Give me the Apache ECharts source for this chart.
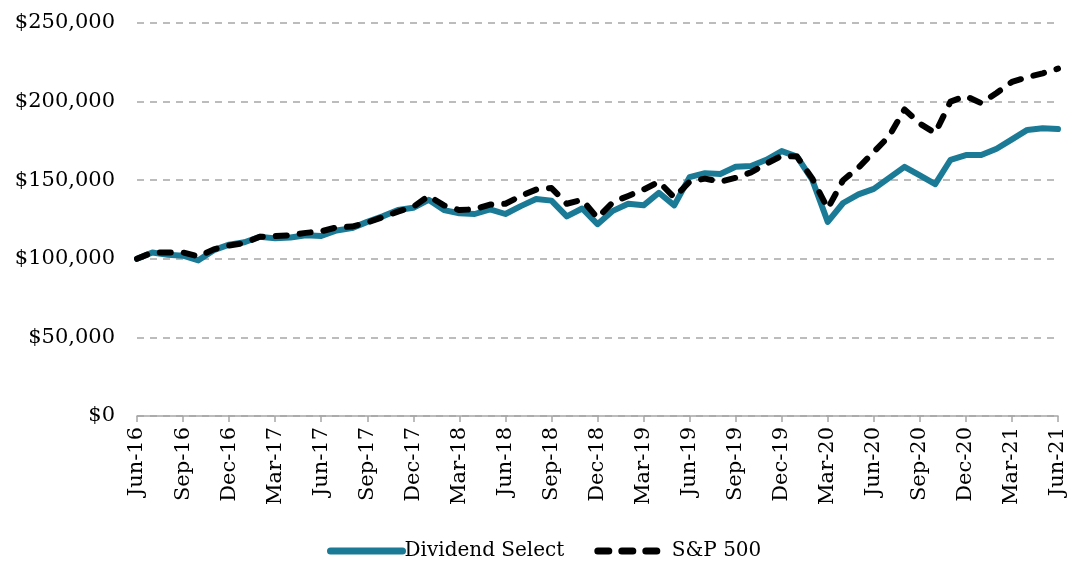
<!DOCTYPE html>
<html lang="en">
<head>
    <meta charset="UTF-8">
    <title>Dividend Select vs S&amp;P 500</title>
    <script src="https://cdn.jsdelivr.net/npm/echarts@6/dist/echarts.min.js"></script>
    <style>
        body { margin: 0; background: #fff; }
    </style>
</head>
<body>
<div id="chart" style="width:1069px;height:561px;"></div>
<script>
    // monthly, Jun-16 .. Jun-21
    var months = ['Jun-16','Jul-16','Aug-16','Sep-16','Oct-16','Nov-16','Dec-16',
        'Jan-17','Feb-17','Mar-17','Apr-17','May-17','Jun-17','Jul-17','Aug-17','Sep-17','Oct-17','Nov-17','Dec-17',
        'Jan-18','Feb-18','Mar-18','Apr-18','May-18','Jun-18','Jul-18','Aug-18','Sep-18','Oct-18','Nov-18','Dec-18',
        'Jan-19','Feb-19','Mar-19','Apr-19','May-19','Jun-19','Jul-19','Aug-19','Sep-19','Oct-19','Nov-19','Dec-19',
        'Jan-20','Feb-20','Mar-20','Apr-20','May-20','Jun-20','Jul-20','Aug-20','Sep-20','Oct-20','Nov-20','Dec-20',
        'Jan-21','Feb-21','Mar-21','Apr-21','May-21','Jun-21'];

    var dividendSelect = [100000,104000,102500,102000,99000,105500,109000,
        110500,114000,113000,113500,115000,114500,118000,119500,123500,127000,131000,132500,
        137500,131000,129000,128500,131500,128500,133500,138000,137000,127000,132000,122000,
        130500,135000,134000,142000,134000,152000,154500,154000,158500,159000,163000,168500,
        165000,150000,123500,135500,141000,144500,151500,158500,153000,147500,163000,166000,
        166000,170000,176000,182000,183000,182500];

    var sp500 = [100000,104000,104000,104000,101500,106000,108500,
        110000,114000,114500,115000,116500,117500,120000,120500,123000,126500,130000,133000,
        140000,134000,131000,131500,134500,135000,140000,144000,145000,135000,137500,126000,
        136000,140000,144000,149000,139000,149000,151000,149000,151500,155000,160500,165500,
        165000,151000,132000,150000,158000,168000,178000,195000,186000,180000,200000,203500,
        199000,205500,212500,215500,218000,221000];

    var yTicks = { min: 0, max: 250000, interval: 50000 };

    var font = 'DejaVu Serif';

    function fmtMoney(v) {
        return '$' + v.toString().replace(/\B(?=(\d{3})+(?!\d))/g, ',');
    }

    var ct = echarts.init(document.getElementById('chart'));
    var option = {
        animation: false,
        textStyle: { fontFamily: font, color: '#000' },
        grid: { left: 137, right: 11, top: 23, bottom: 145 },
        legend: {
            top: 536,
            left: 322,
            itemWidth: 72,
            itemHeight: 12,
            itemGap: 30,
            itemStyle: { opacity: 0 },
            lineStyle: { width: 7, cap: 'round' },
            textStyle: { fontFamily: font, fontSize: 20, color: '#000', padding: [0, 0, 0, -3] },
            data: ['Dividend Select', 'S&P 500']
        },
        xAxis: {
            type: 'category',
            boundaryGap: false,
            data: months,
            axisLine: { lineStyle: { color: '#a6a6a6', width: 1.5 } },
            axisTick: { interval: 2, length: 6, lineStyle: { color: '#a6a6a6', width: 1.5 } },
            axisLabel: {
                interval: 2,
                rotate: 90,
                margin: 11,
                fontFamily: font,
                fontSize: 21,
                color: '#000'
            },
            splitLine: { show: false }
        },
        yAxis: {
            type: 'value',
            min: yTicks.min,
            max: yTicks.max,
            interval: yTicks.interval,
            axisLine: { show: false },
            axisTick: { show: false },
            axisLabel: {
                margin: 22,
                fontFamily: font,
                fontSize: 21,
                color: '#000',
                formatter: fmtMoney
            },
            splitLine: { lineStyle: { color: '#a6a6a6', width: 1.5, type: [7, 6] } }
        },
        series: [
            {
                name: 'Dividend Select',
                type: 'line',
                data: dividendSelect,
                symbol: 'none',
                color: '#1b7b96',
                lineStyle: { width: 6, color: '#1b7b96', cap: 'round', join: 'round' },
                z: 2
            },
            {
                name: 'S&P 500',
                type: 'line',
                data: sp500,
                symbol: 'none',
                color: '#000',
                lineStyle: { width: 6, color: '#000', type: [11, 13], cap: 'round', join: 'round' },
                z: 3
            }
        ]
    };
    ct.setOption(option);
</script>
</body>
</html>
